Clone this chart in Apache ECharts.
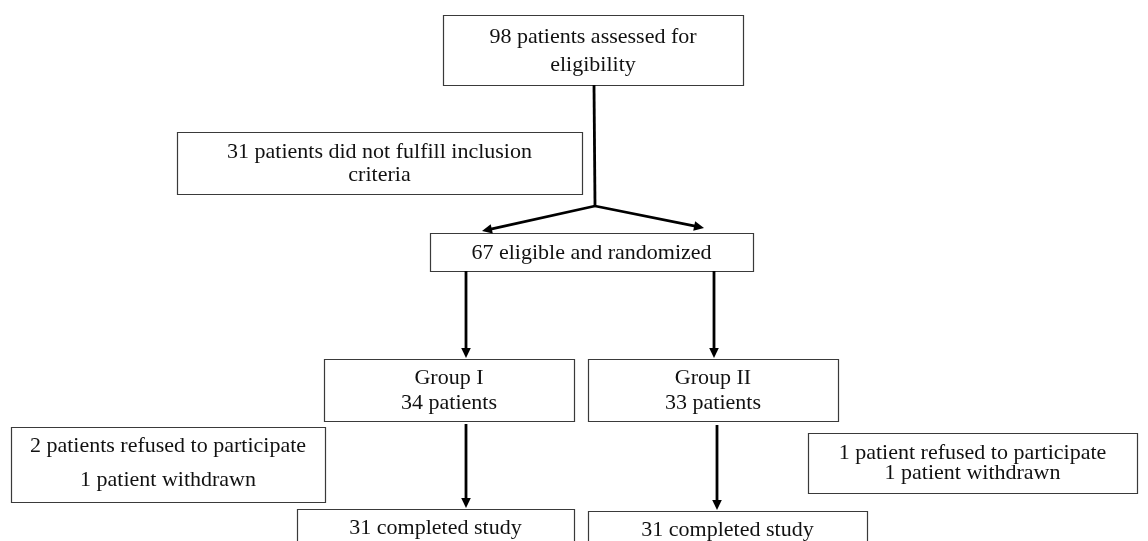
<!DOCTYPE html>
<html>
<head>
<meta charset="utf-8">
<script src="https://cdn.jsdelivr.net/npm/echarts@6/dist/echarts.min.js"></script>
<style>
html,body{margin:0;padding:0;background:#fff;}
#chart{width:1148px;height:541px;}
</style>
</head>
<body>
<div id="chart"></div>
<script>
// Flowchart content
const boxLabels = [
  "98 patients assessed for\neligibility",
  "31 patients did not fulfill inclusion\ncriteria",
  "67 eligible and randomized",
  "Group I\n34 patients",
  "Group II\n33 patients",
  "2 patients refused to participate\n1 patient withdrawn",
  "1 patient refused to participate\n1 patient withdrawn",
  "31 completed study",
  "31 completed study"
];
// Layout (diagram coordinates): x0, y0, x1, y1, textCenterY, lineHeight
const boxLayout = [
  [443, 15, 743, 85, 51, 28],
  [177, 132, 582, 194, 163.5, 23],
  [430, 233, 753, 271, 253, 22],
  [324, 359, 574, 421, 390.5, 25],
  [588, 359, 838, 421, 390.5, 25],
  [11, 427, 325, 502, 463, 34],
  [808, 433, 1137, 493, 463, 20],
  [297, 509, 574, 570, 528, 22],
  [588, 511, 867, 570, 530, 22]
];
// Connectors: x1, y1, x2, y2, arrowhead (1/0)
const connectors = [
  [594, 85, 595, 206, 0],
  [595, 206, 482, 231, 1],
  [595, 206, 704, 228, 1],
  [466, 271, 466, 358, 1],
  [714, 271, 714, 358, 1],
  [466, 424, 466, 508, 1],
  [717, 425, 717, 510, 1]
];

const FONT = '22px "Liberation Serif", "DejaVu Serif", serif';
const chart = echarts.init(document.getElementById('chart'), null, {renderer: 'canvas'});

chart.setOption({
  animation: false,
  backgroundColor: '#ffffff',
  grid: {left: 0, right: 0, top: 0, bottom: 0},
  xAxis: {type: 'value', min: 0, max: 1148, show: false},
  yAxis: {type: 'value', min: 0, max: 541, inverse: true, show: false},
  series: [
    {
      type: 'custom',
      coordinateSystem: 'cartesian2d',
      clip: false,
      data: boxLayout,
      renderItem: function (params, api) {
        const p0 = api.coord([api.value(0), api.value(1)]);
        const p1 = api.coord([api.value(2), api.value(3)]);
        const pc = api.coord([(api.value(0) + api.value(2)) / 2, api.value(4)]);
        return {
          type: 'group',
          children: [
            {
              type: 'rect',
              shape: {x: p0[0] + 0.5, y: p0[1] + 0.5, width: p1[0] - p0[0], height: p1[1] - p0[1]},
              style: {fill: '#ffffff', stroke: '#3a3a3a', lineWidth: 1.2}
            },
            {
              type: 'text',
              style: {
                text: boxLabels[params.dataIndex],
                x: pc[0], y: pc[1],
                align: 'center', verticalAlign: 'middle',
                font: FONT,
                lineHeight: api.value(5),
                fill: '#111111'
              }
            }
          ]
        };
      }
    },
    {
      type: 'custom',
      coordinateSystem: 'cartesian2d',
      clip: false,
      data: connectors,
      renderItem: function (params, api) {
        const a = api.coord([api.value(0), api.value(1)]);
        const b = api.coord([api.value(2), api.value(3)]);
        const head = api.value(4) === 1;
        const dx = b[0] - a[0], dy = b[1] - a[1];
        const len = Math.sqrt(dx * dx + dy * dy);
        const ux = dx / len, uy = dy / len;
        const hl = 10, hw = 4.8;
        const end = head ? [b[0] - ux * (hl - 1), b[1] - uy * (hl - 1)] : b;
        const children = [{
          type: 'line',
          shape: {x1: a[0], y1: a[1], x2: end[0], y2: end[1]},
          style: {stroke: '#000000', lineWidth: 2.8}
        }];
        if (head) {
          const bx = b[0] - ux * hl, by = b[1] - uy * hl;
          children.push({
            type: 'polygon',
            shape: {points: [[b[0], b[1]], [bx - uy * hw, by + ux * hw], [bx + uy * hw, by - ux * hw]]},
            style: {fill: '#000000'}
          });
        }
        return {type: 'group', children: children};
      }
    }
  ]
});
</script>
</body>
</html>
